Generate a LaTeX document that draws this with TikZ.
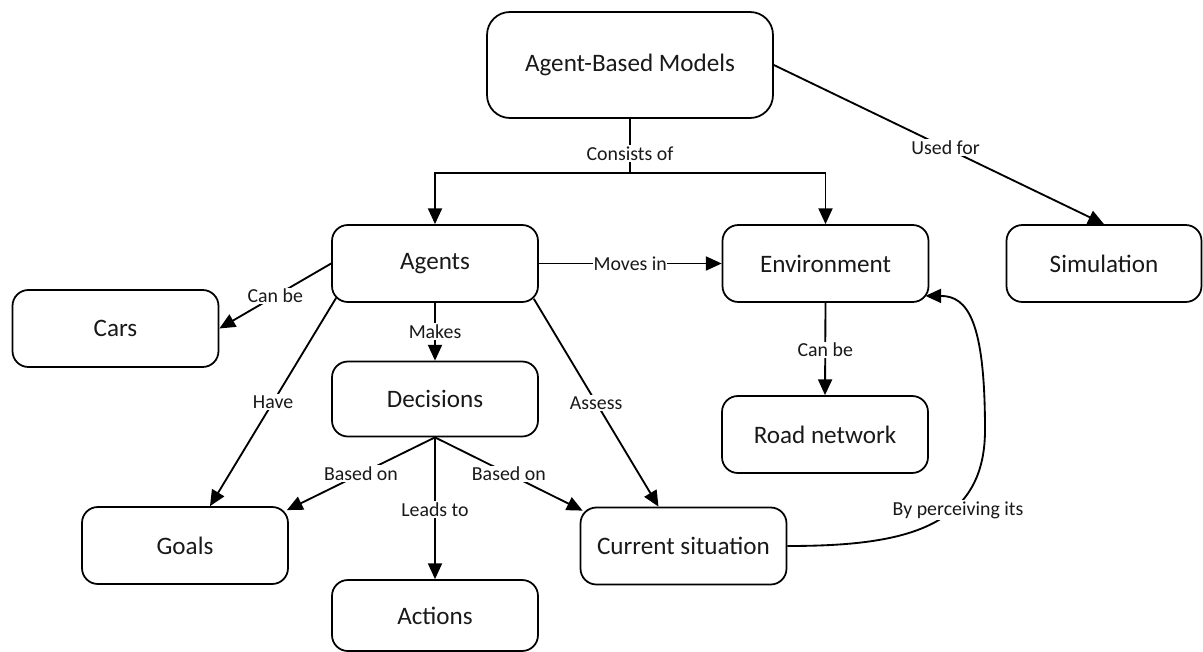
\documentclass[tikz,border=0pt]{standalone}
\usepackage{fontspec}
\setmainfont{Carlito}
\usetikzlibrary{arrows.meta,calc}
\begin{document}
\begin{tikzpicture}[x=0.02cm,y=-0.02cm,
  box/.style={draw, rounded corners=9pt, line width=1pt, minimum width=4.12cm, minimum height=1.54cm, font=\fontsize{14.3}{17}\selectfont, inner sep=0pt, text=black!90},
  lbl/.style={fill=white, inner sep=0.8pt, font=\fontsize{11.3}{13}\selectfont, text=black!90},
  arr/.style={line width=1.05pt, -{Triangle[length=9pt,width=8pt]}},
  ln/.style={line width=1.05pt}]
\useasboundingbox (0,0) rectangle (1203,652);

\node[box, minimum width=5.72cm, minimum height=2.12cm, rounded corners=13pt] (abm) at (630,65) {Agent-Based Models};
\node[box] (agents) at (435,263.5) {Agents};
\node[box] (env) at (825.5,263.5) {Environment};
\node[box, minimum width=3.9cm] (sim) at (1104,263.5) {Simulation};
\node[box] (cars) at (115.5,328.5) {Cars};
\node[box, minimum height=1.5cm] (dec) at (435,399) {Decisions};
\node[box] (road) at (825,434.5) {Road network};
\node[box] (goals) at (185,545.5) {Goals};
\node[box] (cs) at (683.5,546) {Current situation};
\node[box, minimum height=1.42cm] (act) at (435,615.5) {Actions};

% Consists of
\coordinate (j) at (630,173);
\draw[ln] (abm.south) -- node[lbl, pos=0.64] {Consists of} (j);
\draw[arr] (j) -| (agents.north);
\draw[arr] (j) -| (env.north);

% Used for
\draw[arr] (abm.east) -- node[lbl, pos=0.52] {Used for} (sim.north);

% Moves in
\draw[arr] (agents.east) -- node[lbl, pos=0.5, inner sep=0.3pt] {Moves in} (env.west);

% Can be (cars)
\draw[arr] (agents.west) -- node[lbl, pos=0.5] {Can be} (cars.east);

% Have
\draw[arr] ($(agents.south west)+(5,-5)$) -- node[lbl, pos=0.5] {Have} ($(goals.north)+(25,0)$);

% Makes
\draw[arr] (agents.south) -- node[lbl, pos=0.5] {Makes} (dec.north);

% Assess
\draw[arr] ($(agents.south east)+(-5,-4)$) -- node[lbl, pos=0.5] {Assess} ($(cs.north)+(-25,0)$);

% Based on (goals)
\draw[arr] (dec.south) -- node[lbl, pos=0.5] {Based on} ($(goals.north east)+(-2,4)$);

% Based on (current situation)
\draw[arr] (dec.south) -- node[lbl, pos=0.5] {Based on} ($(cs.north west)+(3,4)$);

% Leads to
\draw[arr] (dec.south) -- node[lbl, pos=0.51] {Leads to} (act.north);

% Can be (road)
\draw[arr] (env.south) -- node[lbl, pos=0.51] {Can be} (road.north);

% By perceiving its
\draw[arr] (cs.east) .. controls (900,546) and (985,530) .. (985,430)
  .. controls (985,322) and (968,296) .. ($(env.south east)+(-4,-7)$);
\node[lbl] (perc) at (958,510) {By perceiving its};
\end{tikzpicture}
\end{document}
